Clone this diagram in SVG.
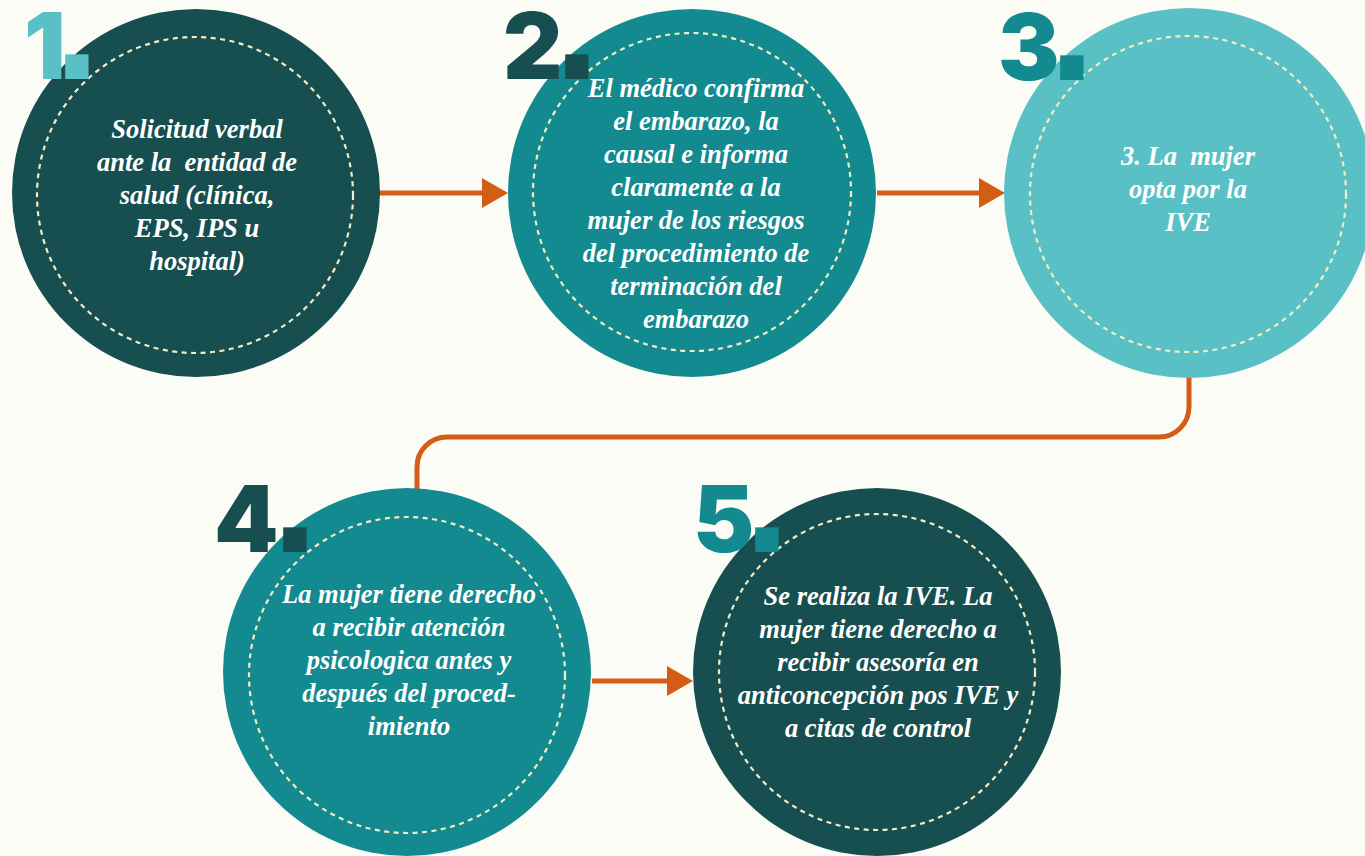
<svg xmlns="http://www.w3.org/2000/svg" width="1365" height="856" viewBox="0 0 1365 856">
<defs>
<style>
.dark{fill:#174F50}
.mid{fill:#138A8F}
.light{fill:#59C0C6}
.dash{fill:none;stroke:#F4EDC4;stroke-width:2.2;stroke-dasharray:5 4.5}
.txt{font-family:"Liberation Serif","DejaVu Serif",serif;font-style:italic;font-weight:bold;font-size:26.5px;fill:#FFFFFF;text-anchor:middle;white-space:pre}
.num{font-family:Inter,"Liberation Sans",sans-serif;font-weight:900;font-size:92px}
.dot{font-family:"Liberation Sans",Arial,sans-serif;font-weight:bold;font-size:165px}
.conn{fill:none;stroke:#D45D16;stroke-width:5}
</style>
<marker id="arr" markerUnits="userSpaceOnUse" markerWidth="26" markerHeight="30" viewBox="0 0 26 30" refX="0" refY="15" orient="auto">
<path d="M0,0 L26,15 L0,30 Z" fill="#D45D16"/>
</marker>
</defs>
<rect width="1365" height="856" fill="#FBFCF6"/>
<g id="connectors">
<path class="conn" d="M380 193 H482" marker-end="url(#arr)"/>
<path class="conn" d="M877 193 H979" marker-end="url(#arr)"/>
<path class="conn" d="M1189 377 V407 A30 30 0 0 1 1159 437 H447 A30 30 0 0 0 417 467 V489"/>
<path class="conn" d="M592 681 H667" marker-end="url(#arr)"/>
</g>
<g id="node1">
<circle class="dark" cx="196" cy="193" r="184"/>
<circle class="dash" cx="195" cy="195" r="158"/>
<text class="num" x="24" y="79" fill="#59C0C6">1<tspan class="dot" x="54">.</tspan></text>
<text class="txt" xml:space="preserve"><tspan x="197" y="138">Solicitud verbal</tspan><tspan x="197" y="171">ante la  entidad de</tspan><tspan x="197" y="204">salud (clínica,</tspan><tspan x="197" y="237">EPS, IPS u</tspan><tspan x="197" y="270">hospital)</tspan></text>
</g>
<g id="node2">
<circle class="mid" cx="692" cy="193" r="184"/>
<circle class="dash" cx="692" cy="192" r="159"/>
<text class="num" x="503" y="79" fill="#174F50">2<tspan class="dot" x="554">.</tspan></text>
<text class="txt"><tspan x="696" y="97">El médico confirma</tspan><tspan x="696" y="130">el embarazo, la</tspan><tspan x="696" y="163">causal e informa</tspan><tspan x="696" y="196">claramente a la</tspan><tspan x="696" y="229">mujer de los riesgos</tspan><tspan x="696" y="262">del procedimiento de</tspan><tspan x="696" y="295">terminación del</tspan><tspan x="696" y="328">embarazo</tspan></text>
</g>
<g id="node3">
<circle class="light" cx="1189" cy="193" r="185"/>
<circle class="dash" cx="1188" cy="194" r="158"/>
<text class="num" x="998" y="80" fill="#138A8F">3<tspan class="dot" x="1049">.</tspan></text>
<text class="txt" xml:space="preserve"><tspan x="1188" y="165">3. La  mujer</tspan><tspan x="1188" y="198">opta por la</tspan><tspan x="1188" y="231">IVE</tspan></text>
</g>
<g id="node4">
<circle class="mid" cx="407" cy="672" r="184"/>
<circle class="dash" cx="407" cy="675" r="158"/>
<text class="num" x="214" y="552" fill="#174F50">4<tspan class="dot" x="272">.</tspan></text>
<text class="txt"><tspan x="409" y="603">La mujer tiene derecho</tspan><tspan x="409" y="636">a recibir atención</tspan><tspan x="409" y="669">psicologica antes y</tspan><tspan x="409" y="702">después del proced-</tspan><tspan x="409" y="735">imiento</tspan></text>
</g>
<g id="node5">
<circle class="dark" cx="877" cy="672" r="184"/>
<circle class="dash" cx="877" cy="672" r="158"/>
<text class="num" x="693" y="552" fill="#138A8F">5<tspan class="dot" x="744">.</tspan></text>
<text class="txt"><tspan x="878" y="605">Se realiza la IVE. La</tspan><tspan x="878" y="638">mujer tiene derecho a</tspan><tspan x="878" y="671">recibir asesoría en</tspan><tspan x="878" y="704">anticoncepción pos IVE y</tspan><tspan x="878" y="737">a citas de control</tspan></text>
</g>
</svg>
